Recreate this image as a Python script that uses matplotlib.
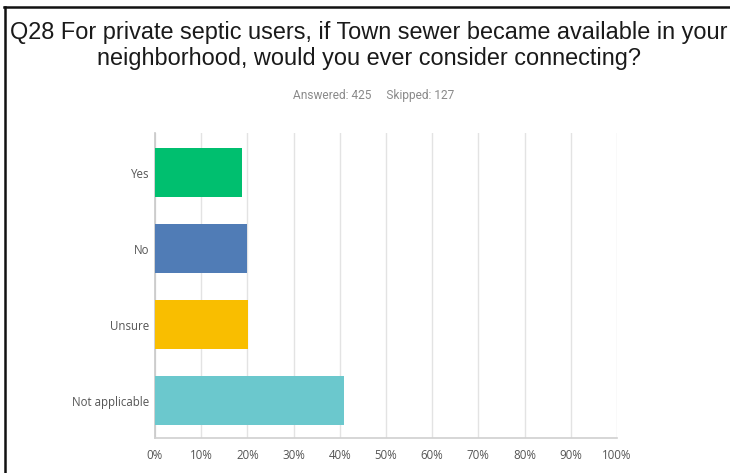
import matplotlib
matplotlib.use("Agg")
import matplotlib.pyplot as plt
from matplotlib.lines import Line2D

categories = ["Yes", "No", "Unsure", "Not applicable"]
percents = [18.8, 20.0, 20.2, 40.9]
colors = ["#00bf6f", "#507cb6", "#f9be00", "#6bc8cd"]
xticks = [0, 10, 20, 30, 40, 50, 60, 70, 80, 90, 100]
xtick_labels = [f"{t}%" for t in xticks]

title_lines = ["Q28 For private septic users, if Town sewer became available in your",
               "neighborhood, would you ever consider connecting?"]
subtitle = "Answered: 425     Skipped: 127"

fig = plt.figure(figsize=(7.30, 4.73), dpi=100)
fig.patch.set_facecolor("white")

# frame lines on the left and top edges of the panel
fig.add_artist(Line2D([0.0068, 0.0068], [0.0, 0.985], transform=fig.transFigure,
                      color="#111111", lw=1.8))
fig.add_artist(Line2D([0.0055, 1.0], [0.985, 0.985], transform=fig.transFigure,
                      color="#111111", lw=1.8))

fig.text(0.505, 1 - 32 / 473, title_lines[0], ha="center", va="center",
         fontsize=16.9, family="Liberation Sans", color="#1a1a1a")
fig.text(0.505, 1 - 58 / 473, title_lines[1], ha="center", va="center",
         fontsize=16.9, family="Liberation Sans", color="#1a1a1a")
fig.text(0.512, 1 - 96 / 473, subtitle, ha="center", va="center", fontsize=8.6,
         family="Roboto", color="#8a8a8a")

ax = fig.add_axes([0.2123, 0.074, 0.6329, 0.6448])
ypos = list(range(len(categories)))
ax.barh(ypos, percents, height=0.645, color=colors, zorder=3)

ax.set_xlim(0, 100)
ax.set_ylim(3.49, -0.52)
ax.set_xticks(xticks)
ax.set_xticklabels(xtick_labels)
ax.set_yticks(ypos)
ax.set_yticklabels(categories)

ax.grid(axis="x", color="#e3e3e3", lw=1.0, zorder=0)
ax.tick_params(axis="both", length=0, labelsize=8.3, labelcolor="#555555")
ax.tick_params(axis="x", pad=8)
ax.tick_params(axis="y", pad=4)
for lbl in ax.get_xticklabels() + ax.get_yticklabels():
    lbl.set_family("Open Sans")

for side in ["top", "right"]:
    ax.spines[side].set_visible(False)
ax.spines["left"].set_color("#c8c8c8")
ax.spines["bottom"].set_color("#d0d0d0")
ax.spines["left"].set_linewidth(1.2)
ax.spines["bottom"].set_linewidth(1.2)

fig.savefig("out.png", dpi=100, facecolor="white")
